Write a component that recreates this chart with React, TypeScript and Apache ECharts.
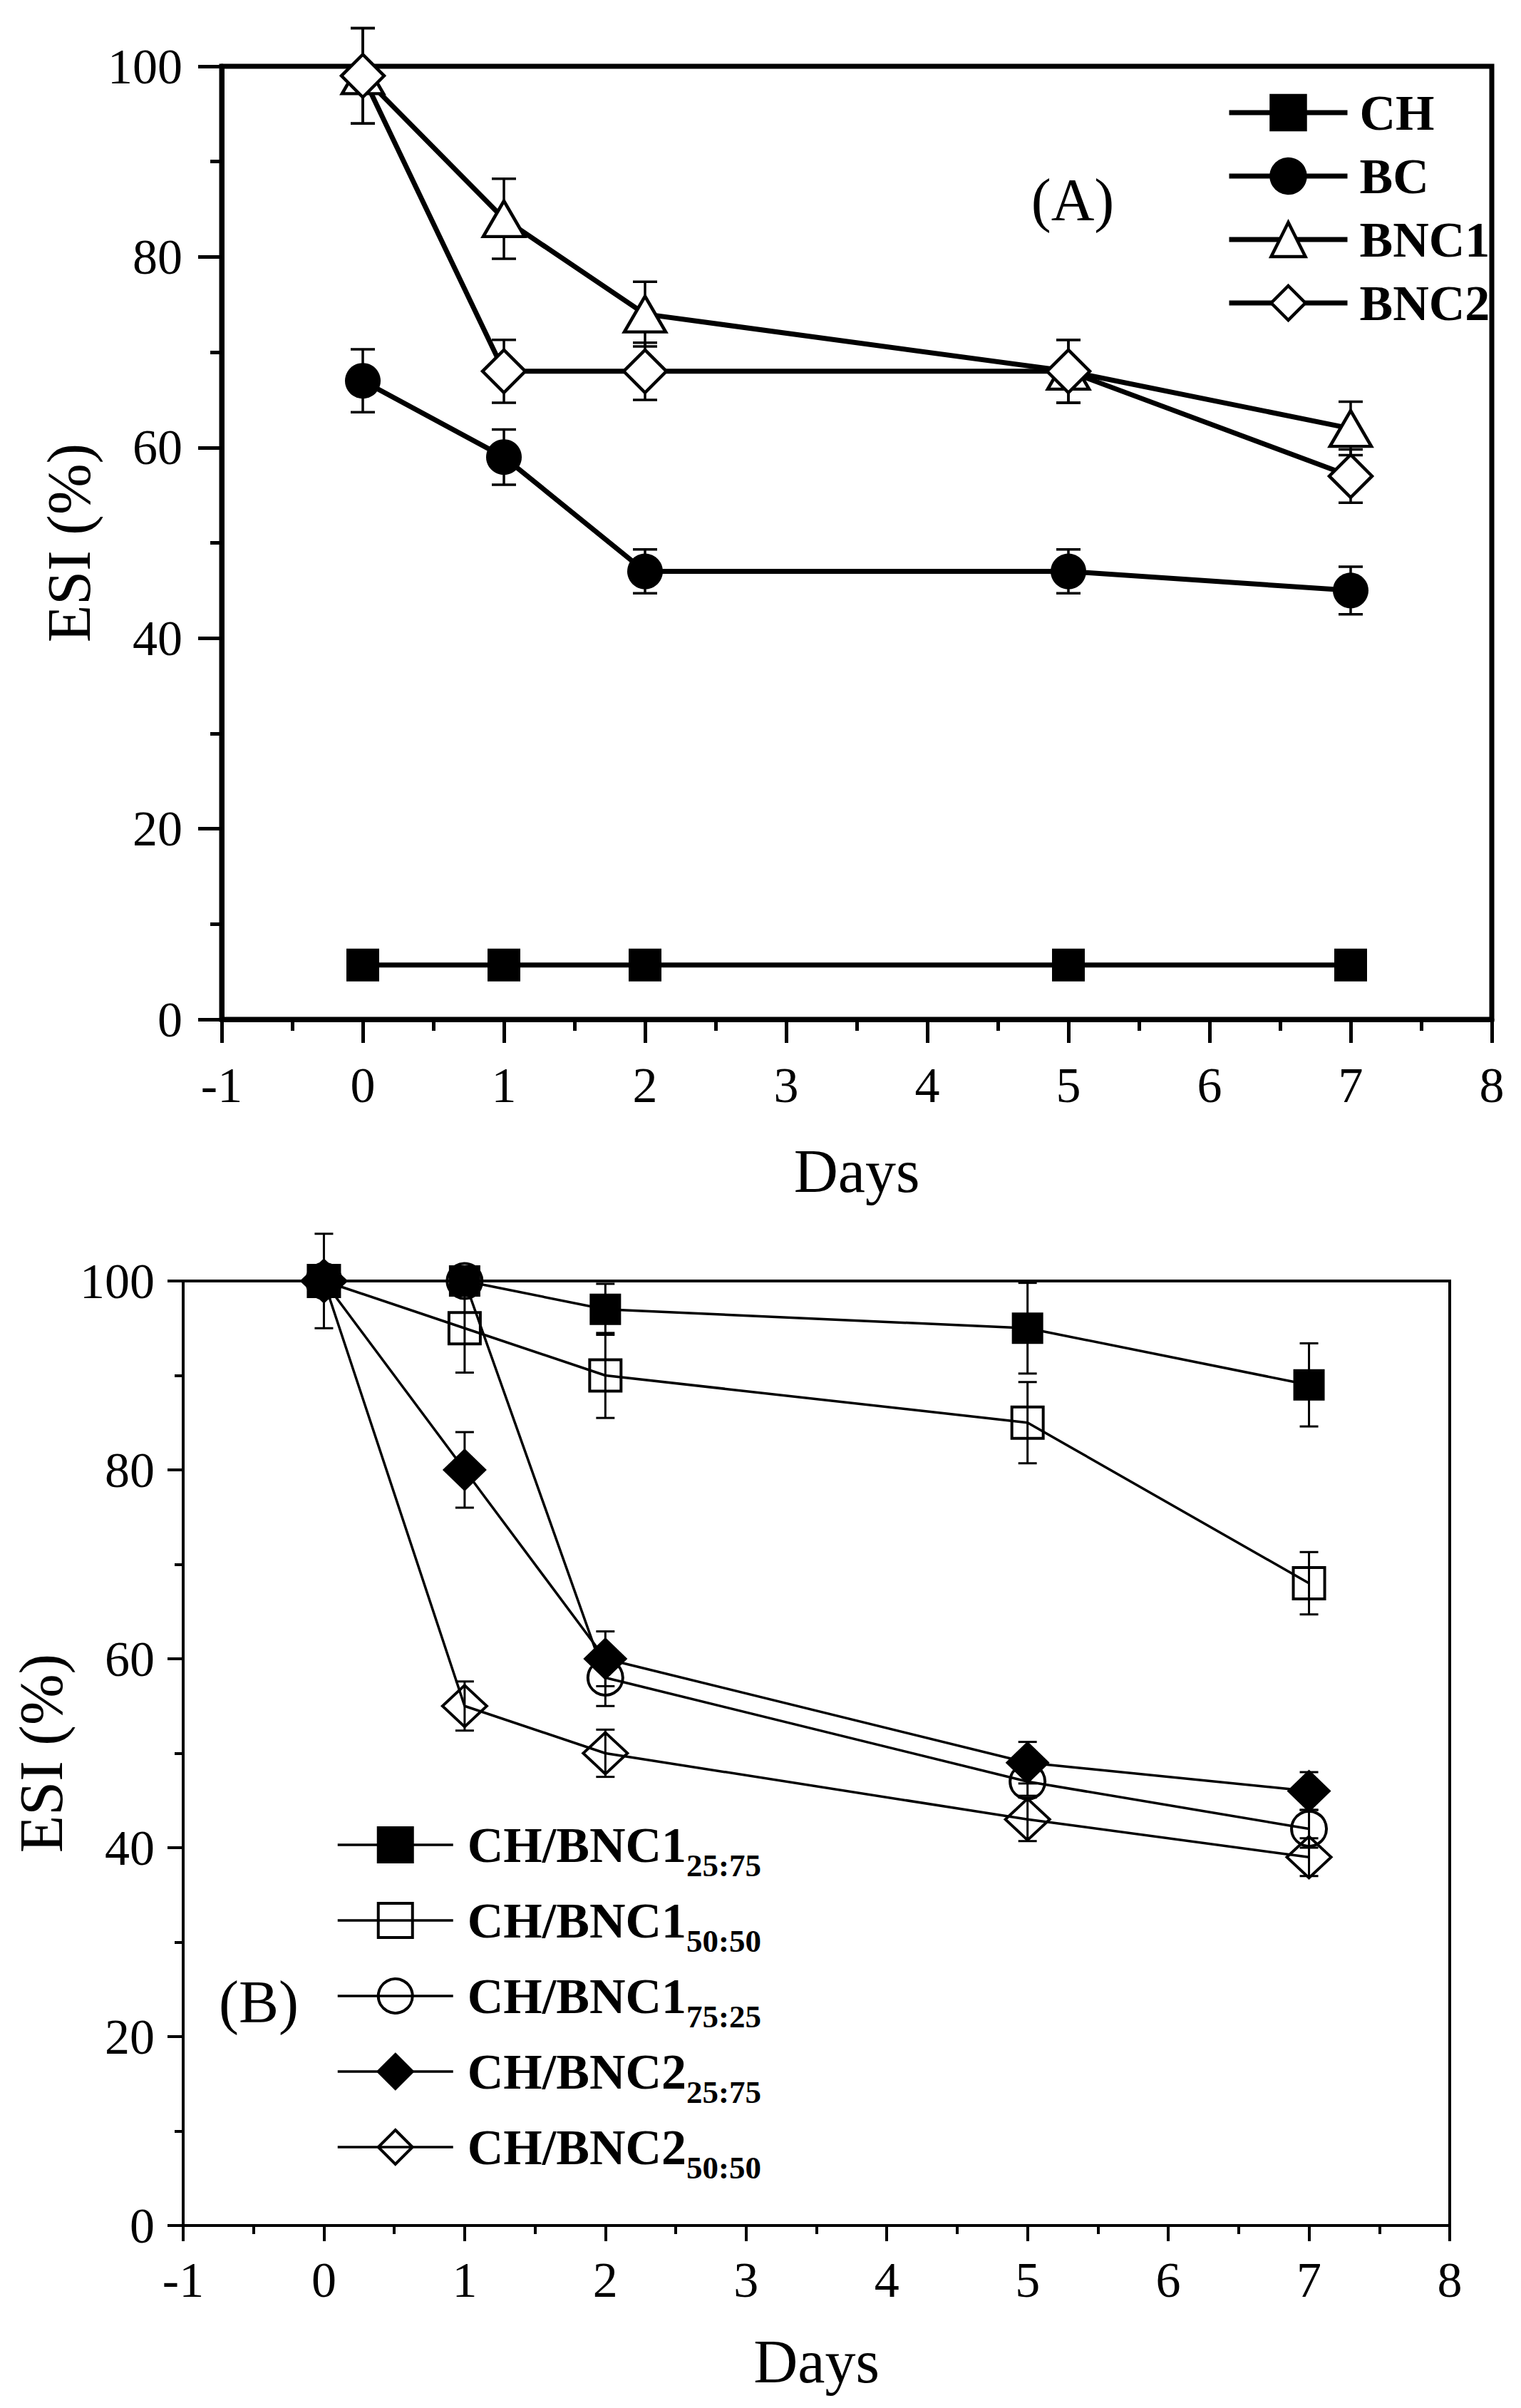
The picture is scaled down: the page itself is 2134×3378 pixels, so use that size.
import { useEffect, useRef } from "react";
import * as echarts from "echarts";

const FONT = "'Liberation Serif', 'Times New Roman', serif";

const days = [0, 1, 2, 5, 7];

// panel (A)
const namesA = ["CH", "BC", "BNC1", "BNC2"];
const valsA = [
  [5.7, 5.7, 5.7, 5.7, 5.7],
  [67, 59, 47, 47, 45],
  [99, 84, 74, 68, 62],
  [99, 68, 68, 68, 57],
];
const errA = [
  [0, 0, 0, 0, 0],
  [3.3, 2.9, 2.3, 2.3, 2.5],
  [5, 4.2, 3.4, 3.3, 2.8],
  [5, 3.3, 3, 3.3, 2.8],
];

// panel (B)
const namesB = ["CH/BNC1 25:75", "CH/BNC1 50:50", "CH/BNC1 75:25", "CH/BNC2 25:75", "CH/BNC2 50:50"];
const valsB = [
  [100, 100, 97, 95, 89],
  [100, 95, 90, 85, 68],
  [100, 100, 58, 47, 42],
  [100, 80, 60, 49, 46],
  [100, 55, 50, 43, 39],
];
const errB = [
  [0, 0, 2.7, 4.8, 4.4],
  [0, 4.7, 4.5, 4.3, 3.3],
  [0, 0, 3, 1.5, 2],
  [0, 4, 2.9, 2.2, 2],
  [5, 2.6, 2.5, 2.3, 2],
];

const xTicks = { min: -1, max: 8, interval: 1 };
const yTicks = { min: 0, max: 100, interval: 20 };

// marker look per series: [symbol, size, fill]
const markA: [string, number | number[], string][] = [
  ["rect", 46, "#000"],
  ["circle", 50, "#000"],
  ["triangle", [58, 50], "#fff"],
  ["diamond", [60, 60], "#fff"],
];
const markB: [string, number | number[], string][] = [
  ["rect", 44, "#000"],
  ["rect", 44, "rgba(0,0,0,0)"],
  ["circle", 49, "rgba(0,0,0,0)"],
  ["diamond", [62, 60], "#000"],
  ["diamond", [62, 58], "rgba(0,0,0,0)"],
];

const errSeries = (idx: number, vals: number[], errs: number[], cap: number, w: number) => ({
  type: "custom",
  coordinateSystem: "cartesian2d",
  xAxisIndex: idx,
  yAxisIndex: idx,
  z: 1,
  silent: true,
  clip: false,
  dimensions: ["x", "y", "e"],
  encode: { x: 0, y: 1 },
  data: days.map((d, i) => [d, vals[i], errs[i]]).filter((r) => r[2] > 0),
  renderItem: (_p: any, api: any) => {
    const x = api.value(0), y = api.value(1), e = api.value(2);
    const hi = api.coord([x, y + e]);
    const lo = api.coord([x, y - e]);
    const st = { stroke: "#000", lineWidth: w };
    return {
      type: "group",
      children: [
        { type: "line", shape: { x1: hi[0], y1: hi[1], x2: lo[0], y2: lo[1] }, style: st },
        { type: "line", shape: { x1: hi[0] - cap / 2, y1: hi[1], x2: hi[0] + cap / 2, y2: hi[1] }, style: st },
        { type: "line", shape: { x1: lo[0] - cap / 2, y1: lo[1], x2: lo[0] + cap / 2, y2: lo[1] }, style: st },
      ],
    };
  },
});

const axisPair = (idx: number, aw: number, tickLen: number, minorLen: number, tickW: number, labelMarginX: number, labelMarginY: number, nameGapX: number, nameGapY: number) => {
  const label = { color: "#000", fontFamily: FONT, fontSize: 70 };
  const nameStyle = { color: "#000", fontFamily: FONT, fontSize: 86 };
  const x = {
    type: "value", gridIndex: idx, ...xTicks,
    name: "Days", nameLocation: "middle", nameGap: nameGapX, nameTextStyle: nameStyle,
    axisLine: { onZero: false, lineStyle: { color: "#000", width: aw } },
    axisTick: { length: tickLen, lineStyle: { color: "#000", width: tickW } },
    minorTick: { show: true, splitNumber: 2, length: minorLen, lineStyle: { color: "#000", width: tickW } },
    axisLabel: { ...label, margin: labelMarginX },
    splitLine: { show: false },
  };
  const y = {
    type: "value", gridIndex: idx, ...yTicks,
    name: "ESI (%)", nameLocation: "middle", nameGap: nameGapY, nameTextStyle: nameStyle,
    axisLine: { onZero: false, lineStyle: { color: "#000", width: aw } },
    axisTick: { length: tickLen, lineStyle: { color: "#000", width: tickW } },
    minorTick: { show: true, splitNumber: 2, length: minorLen, lineStyle: { color: "#000", width: tickW } },
    axisLabel: { ...label, margin: labelMarginY },
    splitLine: { show: false },
  };
  return { x, y };
};

export default function App() {
  const ref = useRef<HTMLDivElement>(null);

  useEffect(() => {
    document.body.style.margin = "0";
    if (!ref.current) return;
    const chart = echarts.init(ref.current, undefined, { renderer: "svg" });

    const a = axisPair(0, 7, 33, 16, 5, 57, 55, 170, 157);
    const b = axisPair(1, 4, 22, 12, 4, 41, 40, 148, 132);

    const lineA = namesA.map((n, i) => ({
      type: "line", name: n, xAxisIndex: 0, yAxisIndex: 0, z: 2, clip: false,
      data: days.map((d, j) => [d, valsA[i][j]]),
      symbol: markA[i][0], symbolSize: markA[i][1], showSymbol: true,
      lineStyle: { color: "#000", width: 7 },
      itemStyle: { color: markA[i][2], borderColor: "#000", borderWidth: markA[i][2] === "#000" ? 0 : 4.5 },
    }));
    const lineB = namesB.map((n, i) => ({
      type: "line", name: n, xAxisIndex: 1, yAxisIndex: 1, z: 2, clip: false,
      data: days.map((d, j) => [d, valsB[i][j]]),
      symbol: markB[i][0], symbolSize: markB[i][1], showSymbol: true,
      lineStyle: { color: "#000", width: 3.5 },
      itemStyle: { color: markB[i][2], borderColor: "#000", borderWidth: markB[i][2] === "#000" ? 0 : 4 },
    }));

    const option: any = {
      animation: false,
      backgroundColor: "#fff",
      textStyle: { fontFamily: FONT },
      grid: [
        { left: 311, top: 93, width: 1782, height: 1337, show: true, borderColor: "#000", borderWidth: 7, backgroundColor: "transparent" },
        { left: 257, top: 1797, width: 1777, height: 1325, show: true, borderColor: "#000", borderWidth: 4, backgroundColor: "transparent" },
      ],
      xAxis: [a.x, b.x],
      yAxis: [a.y, b.y],
      legend: [
        {
          data: namesA, orient: "vertical", left: 1721, top: 123, padding: 0,
          itemWidth: 166, itemHeight: 60, itemGap: 19, selectedMode: false,
          lineStyle: { width: 7 }, itemStyle: { borderWidth: 4.5 },
          formatter: (n: string) => `{m|${n}}`,
          textStyle: {
            color: "#000", fontFamily: FONT, fontSize: 70, fontWeight: "bold",
            rich: { m: { color: "#000", fontFamily: FONT, fontSize: 70, fontWeight: "bold", lineHeight: 70, padding: [0, 0, 0, 12] } },
          },
        },
        {
          data: namesB, orient: "vertical", left: 472, top: 2537, padding: 0,
          itemWidth: 162, itemHeight: 60, itemGap: 4, selectedMode: false,
          lineStyle: { width: 3.5 }, itemStyle: { borderWidth: 4 },
          formatter: (n: string) => {
            const [main, sub] = n.split(" ");
            return `{m|${main}}{s|${sub}}`;
          },
          textStyle: {
            color: "#000", fontFamily: FONT, fontSize: 70, fontWeight: "bold",
            rich: {
              m: { color: "#000", fontFamily: FONT, fontSize: 70, fontWeight: "bold", lineHeight: 70, verticalAlign: "middle", padding: [0, 0, 0, 15] },
              s: { color: "#000", fontFamily: FONT, fontSize: 45, fontWeight: "bold", lineHeight: 70, verticalAlign: "middle", padding: [57, 0, 0, 0] },
            },
          },
        },
      ],
      graphic: [
        { type: "text", x: 1505, y: 280, style: { text: "(A)", fill: "#000", fontFamily: FONT, fontSize: 84, align: "center", verticalAlign: "middle", textAlign: "center", textVerticalAlign: "middle" } },
        { type: "text", x: 363, y: 2808, style: { text: "(B)", fill: "#000", fontFamily: FONT, fontSize: 84, align: "center", verticalAlign: "middle", textAlign: "center", textVerticalAlign: "middle" } },
      ],
      series: [
        ...valsA.map((v, i) => errSeries(0, v, errA[i], 34, 3.5)),
        ...lineA,
        ...valsB.map((v, i) => errSeries(1, v, errB[i], 26, 3)),
        ...lineB,
      ],
    };
    chart.setOption(option);
    return () => chart.dispose();
  }, []);

  return <div ref={ref} style={{ width: 2134, height: 3378 }} />;
}
